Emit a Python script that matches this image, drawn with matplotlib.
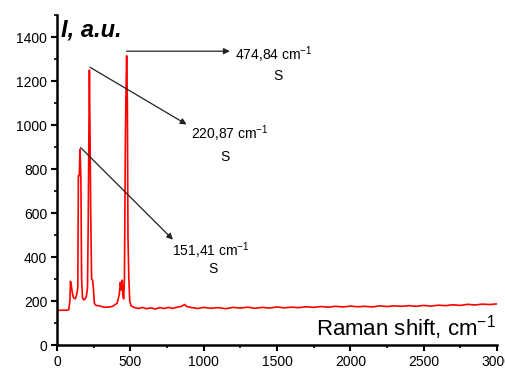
import matplotlib
matplotlib.use("Agg")
import matplotlib.pyplot as plt
from matplotlib.ticker import MultipleLocator

plt.rcParams['font.family'] = ['Liberation Sans', 'DejaVu Sans']
plt.rcParams['mathtext.default'] = 'regular'

# Raman spectrum: shift (cm^-1) and intensity (a.u.)
shift = [0, 60, 80, 88, 92, 98, 104, 112, 125, 135, 142, 146, 152, 157, 163, 168,
         174, 182, 192, 200, 208, 213, 218, 221, 225, 230, 236, 243, 248, 255, 265,
         290, 320, 350, 380, 410, 425, 432, 438, 445, 450, 455, 460, 466, 470, 475,
         480, 484, 490, 496, 505, 530, 560, 580, 610, 640, 670, 700, 730, 760, 790,
         820, 850, 870, 885, 920, 960, 1000, 1050, 1100, 1150, 1200, 1250, 1300,
         1350, 1400, 1450, 1500, 1550, 1600, 1650, 1700, 1750, 1800, 1850, 1900,
         1950, 2000, 2050, 2100, 2150, 2200, 2250, 2300, 2350, 2400, 2450, 2500,
         2550, 2600, 2650, 2700, 2750, 2800, 2850, 2900, 2950, 3000]
intensity = [158, 158, 160, 200, 290, 270, 240, 215, 210, 230, 260, 770, 770, 890, 760, 300,
             215, 205, 210, 220, 260, 550, 1000, 1250, 985, 600, 300, 295, 260, 190, 180,
             178, 172, 172, 176, 190, 230, 285, 250, 295, 220, 210, 300, 900, 1125, 1315,
             1100, 495, 300, 200, 178, 170, 166, 171, 165, 169, 164, 170, 166, 171, 167,
             172, 176, 184, 175, 170, 166, 171, 167, 170, 165, 171, 168, 172,
             167, 171, 168, 173, 169, 172, 170, 174, 171, 175, 172, 176,
             173, 177, 174, 176, 173, 178, 175, 178, 176, 179, 176, 180,
             177, 181, 179, 183, 180, 185, 182, 186, 184, 187]

# Peak annotations: label, arrow start, arrow end, label anchor, "S" anchor
peak_labels = ["474,84 cm$^{-1}$", "220,87 cm$^{-1}$", "151,41 cm$^{-1}$"]
arrow_start = [(475, 1336), (225, 1263), (161, 898)]
arrow_end = [(1179, 1336), (884, 1003), (791, 479)]
label_pos = [(1215, 1318), (912, 960), (786, 428)]
s_pos = [(1507, 1222), (1145, 855), (1063, 345)]

fig = plt.figure(figsize=(5.06, 3.69), dpi=100)
ax = fig.add_axes([0.1126, 0.065, 0.8696, 0.894])

ax.plot(shift, intensity, color='#ff0000', lw=1.2)

ax.set_xlim(0, 3000)
ax.set_ylim(0, 1500)
ax.xaxis.set_major_locator(MultipleLocator(500))
ax.xaxis.set_minor_locator(MultipleLocator(250))
ax.yaxis.set_major_locator(MultipleLocator(200))
ax.yaxis.set_minor_locator(MultipleLocator(100))

for side in ['top', 'right']:
    ax.spines[side].set_visible(False)
for side in ['left', 'bottom']:
    ax.spines[side].set_linewidth(1.8)

ax.tick_params(which='major', direction='out', length=4, width=1.5, labelsize=10, pad=3)
ax.tick_params(which='minor', direction='out', length=2.5, width=1.2)

for lab, a0, a1, lp, sp in zip(peak_labels, arrow_start, arrow_end, label_pos, s_pos):
    ax.annotate("", xy=a1, xytext=a0,
                arrowprops=dict(arrowstyle='-|>', color='#222222', lw=0.9,
                                mutation_scale=9, shrinkA=0, shrinkB=0))
    ax.text(lp[0], lp[1], lab, fontsize=10, ha='left', va='center')
    ax.text(sp[0], sp[1], "S", fontsize=10, ha='center', va='center')

fig.text(0.120, 0.918, "I, a.u.", fontsize=17, fontweight='bold', fontstyle='italic',
         ha='left', va='center')
ax.text(2990, 78, "Raman shift, cm$^{-1}$", fontsize=16, ha='right', va='center')

fig.savefig("out.png", dpi=100)
